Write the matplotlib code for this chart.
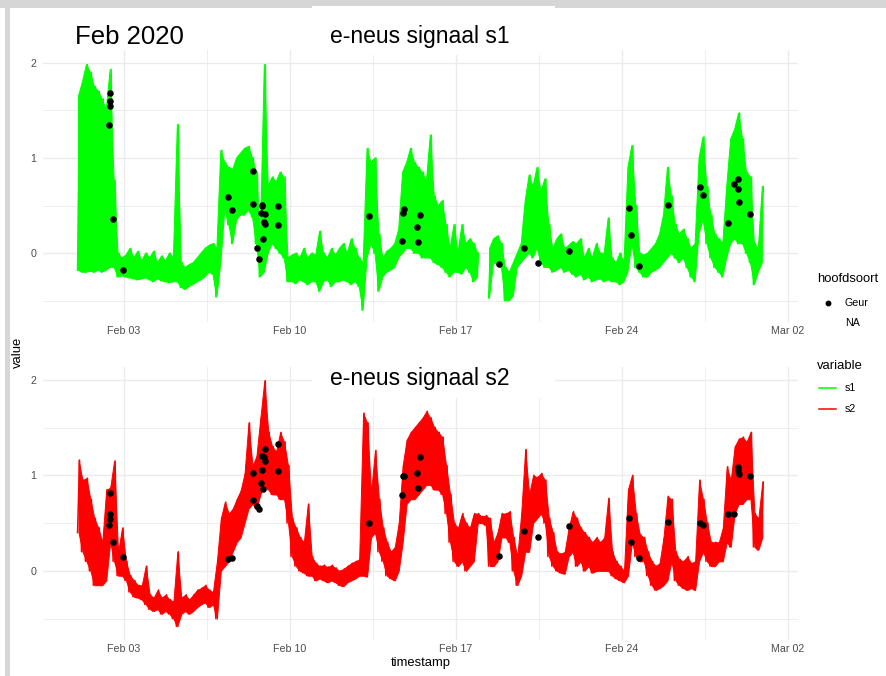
import numpy as np
import matplotlib
matplotlib.use("Agg")
import matplotlib.pyplot as plt
from matplotlib.lines import Line2D
from matplotlib.patches import Rectangle

plt.rcParams['font.family'] = ['Liberation Sans', 'DejaVu Sans']
nan = np.nan

# ---------------- data ----------------
# 4-hour bins starting 2020-02-01 00:00; each bin has a low and a high value
s1_lo = [
    -0.18, -0.2, -0.2, -0.19, -0.2, -0.18,
    -0.2, -0.18, -0.15, -0.15, -0.25, -0.24,
    -0.25, -0.26, -0.27, -0.28, -0.27, -0.26,
    -0.28, -0.3, -0.27, -0.29, -0.3, -0.31,
    -0.3, -0.3, -0.36, -0.38, -0.35, -0.33,
    -0.3, -0.28, -0.25, -0.2, -0.22, -0.46,
    -0.1, 0.45, 0.3, 0.1, 0.35, 0.4,
    0.4, 0.45, 0.38, 0.1, -0.25, -0.2,
    0.0, 0.1, 0.05, 0.0, -0.05, -0.3,
    -0.3, -0.32, -0.28, -0.3, -0.33, -0.3,
    -0.3, -0.4, -0.3, -0.28, -0.35, -0.3,
    -0.3, -0.28, -0.3, -0.33, -0.3, -0.35,
    -0.6, -0.05, 0.1, 0.0, -0.4, -0.25,
    -0.2, -0.18, -0.15, -0.05, 0.0, 0.05,
    0.05, 0.0, 0.0, -0.05, -0.05, -0.05,
    -0.1, -0.12, -0.15, -0.2, -0.25, -0.2,
    -0.2, -0.22, -0.15, -0.2, -0.3, -0.25,
    nan, nan, -0.47, -0.1, -0.12, -0.15,
    -0.5, -0.5, -0.45, -0.15, -0.1, -0.05,
    0.0, -0.05, 0.05, -0.1, -0.15, -0.15,
    -0.2, -0.18, -0.15, -0.2, -0.18, -0.22,
    -0.25, -0.22, -0.28, -0.25, -0.3, -0.28,
    -0.27, -0.3, -0.28, -0.3, -0.3, -0.33,
    -0.3, -0.2, 0.1, -0.15, -0.2, -0.25,
    -0.25, -0.2, -0.18, -0.15, -0.1, -0.05,
    0.0, -0.05, -0.1, -0.05, -0.15, -0.25,
    -0.3, 0.2, 0.35, 0.1, -0.05, -0.15,
    -0.2, -0.25, -0.05, 0.1, 0.15, 0.1,
    0.1, 0.0, -0.1, -0.33, -0.2, -0.1,
]
s1_hi = [
    1.65, 1.8, 1.98, 1.9, 1.75, 1.7,
    1.62, 1.5, 1.93, 0.77, 0.0, -0.05,
    -0.02, 0.05, -0.05, 0.02, -0.08, 0.0,
    -0.05, 0.02, -0.1, -0.03, -0.08, 0.0,
    -0.05, 1.35, -0.1, -0.15, -0.12, -0.1,
    -0.05, 0.0, 0.05, 0.08, 0.1, 0.05,
    1.08, 0.95, 0.9, 0.88, 1.0, 1.05,
    1.1, 1.12, 1.0, 0.85, 0.15, 1.98,
    0.7, 0.8, 0.75, 0.85, 0.8, -0.05,
    -0.02, 0.0, -0.05, 0.05, -0.05, 0.0,
    -0.02, 0.23, 0.0, -0.05, 0.05, -0.02,
    0.05, 0.1, 0.0, 0.15, 0.05, -0.05,
    -0.1, 1.1, 0.95, 1.0, 0.2, -0.05,
    0.02, 0.05, 0.1, 0.25, 0.85, 0.95,
    1.1, 0.95, 0.9, 0.85, 0.75, 1.24,
    0.6, 0.5, 0.55, 0.3, 0.05, 0.3,
    0.0, 0.3, 0.1, 0.15, 0.1, 0.0,
    nan, nan, 0.05, 0.15, 0.18, 0.1,
    -0.15, -0.2, -0.1, 0.0, 0.1, 0.55,
    0.82, 0.7, 0.9, 0.65, 0.78, 0.3,
    0.05, 0.15, 0.2, 0.05, 0.08, 0.12,
    0.1, 0.15, -0.05, 0.05, -0.05, 0.1,
    0.0, 0.0, 0.37, -0.05, -0.1, 0.0,
    -0.1, 0.9, 1.13, 0.5, 0.0, -0.02,
    0.0, 0.05, 0.1, 0.2, 0.4, 0.9,
    0.6, 0.3, 0.2, 0.25, 0.15, 0.05,
    0.1, 1.0, 1.22, 0.7, 0.4, 0.2,
    0.15, 0.1, 0.7, 1.2, 1.3, 1.47,
    1.2, 0.85, 0.8, 0.1, 0.05, 0.7,
]
s2_lo = [
    0.4, 0.2, 0.1, 0.0, -0.15, -0.15,
    -0.15, -0.1, 0.3, 0.1, -0.05, -0.05,
    -0.1, -0.22, -0.27, -0.28, -0.3, -0.35,
    -0.4, -0.42, -0.4, -0.45, -0.42, -0.45,
    -0.5, -0.58, -0.45, -0.42, -0.45, -0.42,
    -0.38, -0.35, -0.33, -0.38, -0.35, -0.5,
    0.0, 0.05, 0.1, 0.2, 0.3, 0.35,
    0.5, 0.65, 0.7, 0.65, 0.8, 0.9,
    0.85, 0.8, 0.8, 0.75, 0.75, 0.5,
    0.15, 0.05, 0.0, -0.02, -0.05, -0.05,
    -0.1, -0.08, -0.1, -0.12, -0.1, -0.12,
    -0.15, -0.16, -0.12, -0.1, -0.08, -0.05,
    -0.05, -0.06, 0.35, 0.4, 0.2, 0.1,
    -0.05, -0.08, -0.1, 0.0, 0.3, 0.7,
    0.75, 0.75, 0.8, 0.85, 0.9, 0.9,
    0.85, 0.85, 0.8, 0.6, 0.3, 0.1,
    0.05, 0.1, 0.0, 0.05, 0.1, 0.5,
    0.5, 0.48, 0.05, 0.05, 0.1, 0.35,
    0.35, 0.3, 0.0, -0.15, -0.05, 0.2,
    0.2, 0.5, 0.55, 0.6, 0.5, 0.15,
    0.05, 0.0, -0.02, -0.03, 0.15, 0.2,
    0.05, 0.1, 0.0, 0.05, -0.02, 0.0,
    0.0, 0.0, 0.0, -0.05, -0.08, -0.1,
    -0.12, -0.05, 0.3, 0.15, 0.1, 0.1,
    -0.05, -0.15, -0.2, -0.18, -0.15, -0.1,
    0.1, -0.1, -0.15, -0.18, -0.2, -0.18,
    -0.2, 0.1, 0.2, 0.1, 0.05, 0.05,
    0.1, 0.1, 0.3, 0.25, 0.6, 0.7,
    0.7, 0.75, 0.75, 0.25, 0.22, 0.35,
]
s2_hi = [
    1.16, 0.95, 0.97, 0.75, 0.55, 0.45,
    0.3, 0.85, 0.87, 1.15, 0.2, 0.45,
    0.1, -0.05, -0.1, -0.15, -0.15, 0.05,
    -0.25, -0.28, -0.2, -0.28, -0.25, -0.3,
    -0.32, 0.2, -0.28, -0.25, -0.3, -0.25,
    -0.2, -0.18, -0.15, -0.2, -0.22, 0.1,
    0.55, 0.72, 0.6, 0.65, 0.75, 0.84,
    1.02, 1.55, 1.1, 1.2, 1.6, 1.99,
    1.45, 1.3, 1.25, 1.45, 1.35, 1.1,
    0.55, 0.45, 0.35, 0.3, 0.7, 0.15,
    0.08, 0.05, 0.06, 0.04, 0.06, 0.03,
    0.0, 0.02, 0.05, 0.08, 0.1, 0.12,
    1.65, 1.55, 0.82, 1.26, 0.75, 0.45,
    0.3, 0.2, 0.25, 0.5, 1.1, 1.37,
    1.45, 1.5, 1.55, 1.6, 1.67, 1.6,
    1.5, 1.45, 1.4, 1.1, 0.8, 0.5,
    0.45, 0.6, 0.5, 0.45, 0.6, 0.6,
    0.57, 0.58, 0.55, 0.3, 0.4, 0.6,
    0.6, 0.62, 0.35, 0.15, 0.6, 1.27,
    0.8, 1.0, 0.98, 1.02, 0.95, 0.55,
    0.4, 0.2, 0.18, 0.2, 0.45, 0.62,
    0.55, 0.45, 0.4, 0.35, 0.3, 0.35,
    0.3, 0.35, 0.76, 0.2, 0.1, 0.05,
    0.0, 0.85, 1.0, 0.6, 0.38, 0.35,
    0.2, 0.1, 0.05, 0.08, 0.35, 0.78,
    0.75, 0.2, 0.12, 0.1, 0.15, 0.08,
    0.1, 0.95, 0.75, 0.5, 0.3, 0.3,
    0.3, 0.45, 1.09, 0.95, 1.3, 1.38,
    1.4, 1.35, 1.45, 0.6, 0.55, 0.93,
]

# "Geur" events: time in days since 2020-02-01 00:00, value of s1 and s2
geur_day = [1.389, 1.401, 1.410, 1.380, 1.536, 1.950, 6.394, 6.546, 7.440, 7.440,
            7.588, 7.706, 7.777, 7.819, 7.828, 7.862, 7.883, 7.937, 7.946, 8.481,
            8.481, 12.344, 13.719, 13.753, 13.787, 14.368, 14.411, 14.491, 17.814,
            18.881, 19.437, 20.757, 23.308, 23.380, 23.730, 24.940, 26.289, 26.437,
            27.479, 27.711, 27.892, 27.892, 27.913, 28.411]
geur_s1 = [1.68, 1.60, 1.54, 1.35, 0.36, -0.18, 0.59, 0.45, 0.86, 0.52,
           0.05, -0.06, 0.42, 0.49, 0.51, 0.15, 0.33, 0.31, 0.41, 0.50,
           0.30, 0.39, 0.13, 0.42, 0.46, 0.27, 0.12, 0.40, -0.11,
           0.05, -0.10, 0.02, 0.47, 0.19, -0.13, 0.51, 0.69, 0.61,
           0.32, 0.73, 0.78, 0.67, 0.54, 0.41]
geur_s2 = [0.81, 0.60, 0.54, 0.48, 0.30, 0.15, 0.12, 0.13, 1.02, 0.74,
           0.68, 0.65, 0.92, 1.06, 1.20, 0.86, 1.19, 1.28, 1.15, 1.33,
           1.04, 0.50, 0.79, 0.99, 0.99, 1.02, 0.87, 1.19, 0.16,
           0.42, 0.35, 0.47, 0.55, 0.30, 0.13, 0.51, 0.50, 0.48,
           0.60, 0.60, 1.09, 1.06, 1.01, 0.99]

tick_days = [2, 9, 16, 23, 30]
tick_labels = ["Feb 03", "Feb 10", "Feb 17", "Feb 24", "Mar 02"]
titles = ["e-neus signaal s1", "e-neus signaal s2"]
series_colors = {"s1": "#00FF00", "s2": "#FF0000"}

# ---------------- figure ----------------
W, H = 887, 676
fig = plt.figure(figsize=(W / 100, H / 100), dpi=100)
fig.patch.set_facecolor("white")


def fx(px):
    return px / W


def fy(py):
    return 1 - py / H


BIN_H = 4.0
n = len(s1_lo)
t_start = np.arange(n) * BIN_H / 24.0
t_mid = t_start + BIN_H / 48.0


def zig(lo, hi):
    t = np.empty(2 * n)
    v = np.empty(2 * n)
    t[0::2] = t_start + BIN_H / 24.0 * 0.25
    t[1::2] = t_start + BIN_H / 24.0 * 0.75
    v[0::2] = lo
    v[1::2] = hi
    return t, v


panels = [(50, 322, s1_lo, s1_hi, geur_s1, "s1"),
          (367, 640, s2_lo, s2_hi, geur_s2, "s2")]
for top_px, bot_px, lo, hi, gv, name in panels:
    ax = fig.add_axes([fx(43), fy(bot_px), fx(798) - fx(43), (bot_px - top_px) / H])
    ax.set_facecolor("white")
    lo_a = np.array(lo, float)
    hi_a = np.array(hi, float)
    col = series_colors[name]
    ok = ~np.isnan(lo_a)
    ax.fill_between(t_mid, lo_a, hi_a, where=ok, facecolor=col, edgecolor=col,
                    lw=0.7, zorder=3)
    t, v = zig(lo_a, hi_a)
    ax.plot(t, v, color=col, lw=1.1, zorder=3)
    ax.plot(geur_day, gv, "o", color="black", ms=3.7, mec="black", zorder=5)
    ax.set_xlim(-1.4156, 30.422)
    ax.set_ylim(-0.723, 2.133)
    ax.set_xticks(tick_days)
    ax.set_xticklabels(tick_labels)
    ax.set_xticks([d + 3.5 for d in tick_days[:-1]], minor=True)
    ax.set_yticks([0, 1, 2])
    ax.set_yticklabels(["0", "1", "2"])
    ax.set_yticks([-0.5, 0.5, 1.5], minor=True)
    ax.grid(which="major", color="#EBEBEB", lw=1.0)
    ax.grid(which="minor", color="#EBEBEB", lw=0.6)
    ax.set_axisbelow(True)
    ax.tick_params(which="both", length=0, labelsize=7.7, labelcolor="#4D4D4D")
    ax.tick_params(axis="y", pad=5)
    ax.tick_params(axis="x", pad=3)
    for s in ax.spines.values():
        s.set_visible(False)

# screenshot frame
gray = "#D6D6D6"
fig.add_artist(Rectangle((0, fy(8)), 1, 8 / H, transform=fig.transFigure,
                         facecolor=gray, edgecolor="none", zorder=3))
fig.add_artist(Rectangle((fx(5.5), 0), 4.5 / W, fy(8), transform=fig.transFigure,
                         facecolor=gray, edgecolor="none", zorder=3))
# title boxes
fig.add_artist(Rectangle((fx(312), fy(55)), 243 / W, 48.5 / H, transform=fig.transFigure,
                         facecolor="white", edgecolor="none", zorder=4))
fig.add_artist(Rectangle((fx(312), fy(398)), 243 / W, 40 / H, transform=fig.transFigure,
                         facecolor="white", edgecolor="none", zorder=4))
fig.text(fx(330.5), fy(43.5), titles[0], fontsize=16.5, va="baseline", ha="left", zorder=6)
fig.text(fx(330.5), fy(385), titles[1], fontsize=16.5, va="baseline", ha="left", zorder=6)
fig.text(fx(75), fy(44), "Feb 2020", fontsize=18.5, va="baseline", ha="left", zorder=6)

# axis titles
fig.text(fx(18), fy(352), "value", rotation=90, fontsize=9.4, va="center", ha="center")
fig.text(fx(420.5), fy(663), "timestamp", fontsize=9.4, va="center", ha="center")

# legends
fig.text(fx(817), fy(279), "hoofdsoort", fontsize=9.4, va="center", ha="left")
fig.add_artist(Line2D([fx(828)], [fy(302.5)], marker="o", ms=3.2, color="black",
                      transform=fig.transFigure))
fig.text(fx(845), fy(302.5), "Geur", fontsize=7.7, va="center", ha="left")
fig.text(fx(845), fy(323), "NA", fontsize=7.7, va="center", ha="left")
fig.text(fx(817), fy(366), "variable", fontsize=9.4, va="center", ha="left")
for yy, name in [(388.3, "s1"), (409, "s2")]:
    fig.add_artist(Line2D([fx(819.5), fx(836)], [fy(yy), fy(yy)], lw=1.1,
                          color=series_colors[name], transform=fig.transFigure))
    fig.text(fx(845), fy(yy), name, fontsize=7.7, va="center", ha="left")

fig.savefig("out.png", dpi=100, facecolor="white")
